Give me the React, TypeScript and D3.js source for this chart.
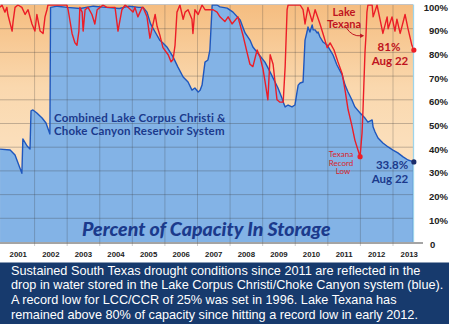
import React from "react";
import * as d3 from "d3";

// ---------- data ----------
const yearLabels = [2001, 2002, 2003, 2004, 2005, 2006, 2007, 2008, 2009, 2010, 2011, 2012, 2013];
const gridYears = [2002, 2003, 2004, 2005, 2006, 2007, 2008, 2009, 2010, 2011, 2012, 2013];
const pctTicks = [0, 10, 20, 30, 40, 50, 60, 70, 80, 90, 100];
const pctTickLabels = ["0", "10%", "20%", "30%", "40%", "50%", "60%", "70%", "80%", "90%", "100%"];

// Combined Lake Corpus Christi / Choke Canyon (fractional year, % capacity)
const lccDates = [
  2000.94, 2001.25, 2001.4, 2001.55, 2001.61, 2001.64, 2001.77, 2001.86, 2001.89, 2001.95,
  2002.07, 2002.23, 2002.35, 2002.47, 2002.49, 2002.7, 2003.0, 2003.4, 2003.8, 2004.2,
  2004.6, 2004.9, 2005.2, 2005.33, 2005.45, 2005.56, 2005.7, 2005.85, 2005.94, 2006.06,
  2006.25, 2006.4, 2006.56, 2006.71, 2006.83, 2006.92, 2007.02, 2007.08, 2007.14, 2007.23,
  2007.32, 2007.38, 2007.45, 2007.6, 2007.69, 2007.91, 2008.09, 2008.31, 2008.46, 2008.61,
  2008.7, 2008.92, 2009.07, 2009.23, 2009.38, 2009.47, 2009.59, 2009.63, 2009.69, 2009.78,
  2009.9, 2009.99, 2010.05, 2010.09, 2010.15, 2010.24, 2010.3, 2010.36, 2010.39, 2010.45,
  2010.52, 2010.55, 2010.61, 2010.67, 2010.7, 2010.76, 2010.85, 2010.98, 2011.07, 2011.16,
  2011.28, 2011.44, 2011.53, 2011.62, 2011.74, 2011.83, 2011.99, 2012.14, 2012.23, 2012.36,
  2012.39, 2012.45, 2012.54, 2012.69, 2012.85, 2013.0, 2013.15, 2013.31, 2013.46, 2013.64,
];
const lccValues = [
  39.2, 38.8, 36.7, 31.2, 29, 43.5, 40.5, 39.2, 55.3, 55.7,
  54.4, 52.3, 50.2, 45.6, 99, 99.5, 99, 98.5, 99.5, 99,
  98.5, 99.5, 99, 99, 97, 92, 88.6, 85, 84, 82.3,
  78.1, 73.8, 69.6, 67.5, 64.1, 65, 63.3, 64, 66.2, 75.9,
  76.8, 81, 100, 100, 99.2, 98.7, 97, 93.7, 88.2, 85.2,
  82.3, 78.5, 75.9, 71.7, 67.5, 65, 60.8, 59.1, 57, 57.8,
  57, 57.8, 62.9, 66.2, 67.1, 67.5, 85.2, 88.6, 90.7, 88.6,
  91.6, 89.5, 89.5, 88.2, 88.6, 86.5, 84.4, 83.1, 81, 78.9,
  74.7, 70.5, 66.2, 63.3, 59.9, 57, 54.4, 52.3, 50.6, 51.5,
  48.5, 46.4, 43.9, 41.8, 40.1, 38.8, 37.6, 35.9, 34.6, 33.8,
];

// Lake Texana (fractional year, % capacity)
const texanaDates = [
  2000.94, 2001.0, 2001.09, 2001.15, 2001.18, 2001.31, 2001.34, 2001.4, 2001.49, 2001.61,
  2001.71, 2001.8, 2001.92, 2002.01, 2002.07, 2002.17, 2002.26, 2002.32, 2002.38, 2002.41,
  2002.99, 2003.03, 2003.15, 2003.24, 2003.3, 2003.36, 2003.39, 2003.46, 2003.49, 2003.55,
  2003.64, 2003.76, 2003.85, 2003.92, 2004.01, 2004.1, 2004.22, 2004.31, 2004.47, 2004.56,
  2004.68, 2004.78, 2004.87, 2005.02, 2005.08, 2005.17, 2005.3, 2005.33, 2005.45, 2005.54,
  2005.7, 2005.76, 2005.85, 2005.94, 2006.1, 2006.19, 2006.25, 2006.31, 2006.37, 2006.46,
  2006.56, 2006.62, 2006.71, 2006.83, 2006.86, 2006.92, 2007.02, 2007.14, 2007.23, 2007.48,
  2007.6, 2007.69, 2007.84, 2007.94, 2008.06, 2008.24, 2008.4, 2008.52, 2008.61, 2008.7,
  2008.83, 2008.92, 2009.01, 2009.07, 2009.16, 2009.23, 2009.32, 2009.44, 2009.53, 2009.63,
  2009.69, 2009.75, 2009.78, 2010.15, 2010.24, 2010.3, 2010.39, 2010.52, 2010.61, 2010.76,
  2010.85, 2010.98, 2011.07, 2011.19, 2011.31, 2011.44, 2011.53, 2011.62, 2011.74, 2011.83,
  2011.99, 2012.05, 2012.08, 2012.14, 2012.17, 2012.2, 2012.23, 2012.36, 2012.39, 2012.51,
  2012.6, 2012.69, 2012.82, 2012.85, 2012.97, 2013.06, 2013.12, 2013.22, 2013.37, 2013.46,
  2013.58, 2013.64,
];
const texanaValues = [
  99, 100, 97, 99, 96, 89, 93, 99, 100, 99,
  96, 98, 92, 89, 96, 89, 88, 95, 98, 100,
  100, 98, 88, 84, 83, 89, 99, 97, 89, 98,
  99, 96, 92, 98, 99, 100, 99, 99, 99, 89,
  98, 100, 99, 97, 99, 95, 99, 99, 95, 86,
  96, 91, 87, 82, 79, 76, 77, 83, 97, 100,
  94, 97, 98, 94, 88, 98, 96, 100, 98, 98,
  97, 95, 93, 95, 92, 95, 87, 80, 75, 74,
  81, 78, 73, 68, 60, 79, 75, 60, 59, 59,
  74, 98, 100, 100, 98, 92, 99, 93, 98, 92,
  88, 82, 84, 81, 76, 71, 64, 56, 49, 43,
  36, 46, 56, 80, 87, 97, 100, 100, 95, 100,
  94, 88, 95, 90, 95, 89, 94, 88, 96, 90,
  83, 81,
];

const captionLines = [
  "Sustained South Texas drought conditions since 2011 are reflected in the",
  "drop in water stored in the Lake Corpus Christi/Choke Canyon system (blue).",
  "A record low for LCC/CCR of 25% was set in 1996. Lake Texana has",
  "remained above 80% of capacity since hitting a record low in early 2012.",
];

export default function App() {
  const W = 449;
  const H = 324;
  const plotLeft = 0;
  const plotRight = 413;
  const plotTop = 4.5;

  const x = d3.scaleLinear().domain([2001, 2013]).range([2, 393]);
  const y = d3.scaleLinear().domain([0, 100]).range([242, 5]);

  const lcc = lccDates.map((t, i) => ({ t, v: lccValues[i] }));
  const tex = texanaDates.map((t, i) => ({ t, v: texanaValues[i] }));

  const area = d3
    .area<{ t: number; v: number }>()
    .x((d) => x(d.t))
    .y0(y(0))
    .y1((d) => y(d.v));
  const line = d3
    .line<{ t: number; v: number }>()
    .x((d) => x(d.t))
    .y((d) => y(d.v));

  const lastL = lcc[lcc.length - 1];
  const lastT = tex[tex.length - 1];
  let lowT = tex[0];
  tex.forEach((d) => {
    if (d.v < lowT.v) lowT = d;
  });

  const navy = "#1b3a8c";
  const darkRed = "#bf1420";
  const red = "#ec1d27";
  const annoFont = "Lato, 'Open Sans', sans-serif";

  // arrow for "Lake Texana"
  const arrowEndX = x(2012.16) - 1.5;
  const arrowEndY = y(87);
  const arrowStartX = x(2011.56);
  const arrowStartY = y(90.5);

  return (
    <svg width={W} height={H} style={{ position: "absolute", left: 0, top: 0, display: "block" }}>
      <defs>
        <linearGradient id="bgGrad" x1="0" y1="0" x2="0" y2="1">
          <stop offset="0%" stopColor="#f5bd80" />
          <stop offset="35%" stopColor="#fad8ae" />
          <stop offset="100%" stopColor="#fdead2" />
        </linearGradient>
        <clipPath id="plotClip">
          <rect x={plotLeft} y={plotTop} width={plotRight - plotLeft} height={y(0) - plotTop + 1} />
        </clipPath>
      </defs>
      <rect x={0} y={0} width={W} height={H} fill="#ffffff" />
      <rect x={plotLeft} y={plotTop} width={plotRight - plotLeft} height={y(0) - plotTop} fill="url(#bgGrad)" />

      <g clipPath="url(#plotClip)">
        <path d={area(lcc) || ""} fill="#83b3e6" />
      </g>

      {/* grid */}
      {pctTicks
        .filter((p) => p > 0 && p < 100)
        .map((p) => (
          <line key={"h" + p} x1={plotLeft} x2={plotRight} y1={y(p)} y2={y(p)} stroke="rgba(60,60,60,0.3)" strokeWidth={1} />
        ))}
      {gridYears.map((yr) => (
        <line key={"v" + yr} x1={x(yr)} x2={x(yr)} y1={plotTop} y2={y(0) + 4} stroke="rgba(60,60,60,0.25)" strokeWidth={1} />
      ))}
      <line x1={plotLeft} x2={plotRight} y1={plotTop} y2={plotTop} stroke="#c4c4c4" strokeWidth={1.2} />
      <line x1={plotRight + 0.5} x2={plotRight + 0.5} y1={plotTop} y2={y(0)} stroke="#9ed4ea" strokeWidth={1.3} />

      <g clipPath="url(#plotClip)">
        <path d={line(lcc) || ""} fill="none" stroke="#1f57bd" strokeWidth={1.4} strokeLinejoin="round" />
        <line x1={x(lastL.t)} x2={x(lastL.t)} y1={y(lastL.v)} y2={y(0)} stroke="#1f57bd" strokeWidth={2} />
        <path d={line(tex) || ""} fill="none" stroke={red} strokeWidth={1.4} strokeLinejoin="round" />
      </g>

      {/* axis line */}
      <line x1={0} x2={423} y1={y(0) + 1} y2={y(0) + 1} stroke="#4a4a4a" strokeWidth={1.2} />

      {/* year labels */}
      {yearLabels.map((yr) => (
        <text
          key={"yl" + yr}
          x={x(yr + 0.5)}
          y={257}
          textAnchor="middle"
          fontFamily="'Liberation Sans', Arial, sans-serif"
          fontWeight="bold"
          fontSize={7.8}
          fill="#222"
        >
          {yr}
        </text>
      ))}

      {/* right axis labels */}
      {pctTicks.map((p, i) => (
        <text
          key={"pl" + p}
          x={p === 0 ? 430 : 448}
          y={y(p) + 5.5}
          textAnchor={p === 0 ? "start" : "end"}
          fontFamily="'Liberation Sans', Arial, sans-serif"
          fontWeight="bold"
          fontSize={9.5}
          fill="#222"
        >
          {pctTickLabels[i]}
        </text>
      ))}

      {/* annotations */}
      <g fontFamily={annoFont} fontWeight="bold">
        <text x={54} y={121.5} fontSize={11.5} letterSpacing={0.2} fill={navy}>
          Combined Lake Corpus Christi &amp;
        </text>
        <text x={54} y={135.2} fontSize={11.5} letterSpacing={0.2} fill={navy}>
          Choke Canyon Reservoir System
        </text>
        <text x={82} y={235.5} fontSize={19.5} fontStyle="italic" fontWeight={900} fill={navy}>
          Percent of Capacity In Storage
        </text>

        <text x={344} y={16} fontSize={11} textAnchor="middle" fill={darkRed}>
          Lake
        </text>
        <text x={344} y={27.5} fontSize={11} textAnchor="middle" fill={darkRed}>
          Texana
        </text>
        <text x={389} y={51} fontSize={11.5} textAnchor="middle" fill={darkRed}>
          81%
        </text>
        <text x={390} y={64.8} fontSize={11.5} textAnchor="middle" fill={darkRed}>
          Aug 22
        </text>

        <text x={341} y={157} fontSize={8} textAnchor="middle" fill="#d8242b" fontWeight="normal">
          Texana
        </text>
        <text x={341} y={165.6} fontSize={8} textAnchor="middle" fill="#d8242b" fontWeight="normal">
          Record
        </text>
        <text x={343} y={174.2} fontSize={8} textAnchor="middle" fill="#d8242b" fontWeight="normal">
          Low
        </text>

        <text x={392} y={169} fontSize={11.5} textAnchor="middle" fill={navy}>
          33.8%
        </text>
        <text x={390} y={182.8} fontSize={11.5} textAnchor="middle" fill={navy}>
          Aug 22
        </text>
      </g>

      <path
        d={`M${arrowStartX},${arrowStartY} Q${arrowStartX + 6},${arrowEndY + 1} ${arrowEndX - 3},${arrowEndY}`}
        fill="none"
        stroke={darkRed}
        strokeWidth={1}
      />
      <path
        d={`M${arrowEndX},${arrowEndY} L${arrowEndX - 4},${arrowEndY - 2.2} L${arrowEndX - 4},${arrowEndY + 2.2} Z`}
        fill={darkRed}
      />

      {/* dots */}
      <circle cx={x(lastT.t)} cy={y(lastT.v)} r={2.6} fill={red} />
      <circle cx={x(lowT.t)} cy={y(lowT.v)} r={2.6} fill={red} />
      <circle cx={x(lastL.t)} cy={y(lastL.v)} r={2.6} fill="#1a2d6b" />

      {/* caption box */}
      <rect x={0} y={262.5} width={W} height={H - 262.5} fill="#173a6d" />
      {captionLines.map((s, i) => (
        <text
          key={"c" + i}
          x={11}
          y={274.5 + i * 14.8}
          fontFamily="'Liberation Sans', Arial, sans-serif"
          fontSize={12.7}
          fill="#ffffff"
        >
          {s}
        </text>
      ))}
    </svg>
  );
}
